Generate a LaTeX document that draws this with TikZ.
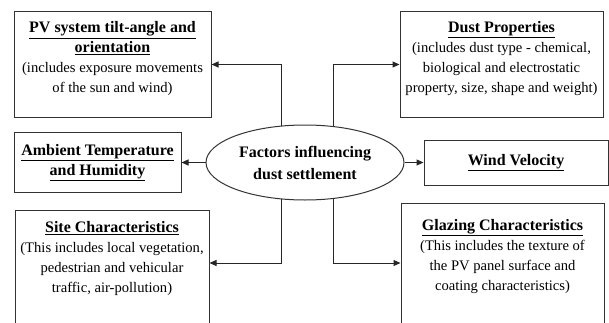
\documentclass[tikz,border=0pt]{standalone}
\usepackage{fontspec}
\setmainfont{Liberation Serif}
\usepackage{tikz}
\usetikzlibrary{arrows.meta}
\usetikzlibrary{positioning}
\usetikzlibrary{shapes.geometric}
\newcommand{\boxtitle}[1]{{\fontsize{16}{20}\selectfont\bfseries\underline{#1}}}
\tikzset{%
  myedge/.style={-{Triangle[length=7pt, width=6pt]}, line width=1pt, draw=black!85},
  mybox/.style={rectangle, draw=black!80, line width=1pt, inner sep=0pt},
  boxtext/.style={align=center, inner sep=0pt, font=\fontsize{14.6}{20}\selectfont},
  myellipse/.style={ellipse, draw=black!80, line width=1pt, inner sep=0pt,
    minimum width=198pt, minimum height=75pt, align=center,
    font=\fontsize{16}{22}\selectfont\bfseries}
}

\begin{document}
\begin{tikzpicture}[x=1pt, y=1pt]
  \useasboundingbox (0,0) rectangle (609,322);
  \node[myellipse] (factors) at (305,159.5) {Factors influencing\\dust settlement};
  \node[mybox, minimum width=197pt, minimum height=105pt] (pv) at (112.5,257.5) {};
  \node[boxtext, below=10pt] (pvtext) at (pv.north) {\boxtitle{PV system tilt-angle and}\\\boxtitle{orientation}\\(includes exposure movements\\of the sun and wind)};
  \node[mybox, minimum width=167pt, minimum height=60pt, align=center] (ambient) at (97.5,159.5) {\boxtitle{Ambient Temperature}\\[2pt]\boxtitle{and Humidity}};
  \node[mybox, minimum width=194pt, minimum height=120pt, anchor=north] (site) at (112,112) {};
  \node[boxtext, below=11pt] (sitetext) at (site.north) {\boxtitle{Site Characteristics}\\(This includes local vegetation,\\pedestrian and vehicular\\traffic, air-pollution)};
  \node[mybox, minimum width=203pt, minimum height=105pt] (dust) at (501.5,257.5) {};
  \node[boxtext, below=10pt] (dusttext) at (dust.north) {\boxtitle{Dust Properties}\\(includes dust type - chemical,\\biological and electrostatic\\property, size, shape and weight)};
  \node[mybox, minimum width=184pt, minimum height=45pt] (wind) at (516,159.5) {\boxtitle{Wind Velocity}};
  \node[mybox, minimum width=203pt, minimum height=130pt, anchor=north] (glazing) at (502.5,119) {};
  \node[boxtext, below=16pt] (glazingtext) at (glazing.north) {\boxtitle{Glazing Characteristics}\\(This includes the texture of\\the PV panel surface and\\coating characteristics)};
  \draw [myedge] (factors.123) |- (pv.east);
  \draw [myedge] (factors.52) |- (dust.west);
  \draw [myedge] (factors.west) -- (ambient.east);
  \draw [myedge] (factors.east) -- (wind.west);
  \draw [myedge] (factors.237) |- ([yshift=-53pt]site.north east);
  \draw [myedge] (factors.308) |- ([yshift=-60pt]glazing.north west);
\end{tikzpicture}
\end{document}
